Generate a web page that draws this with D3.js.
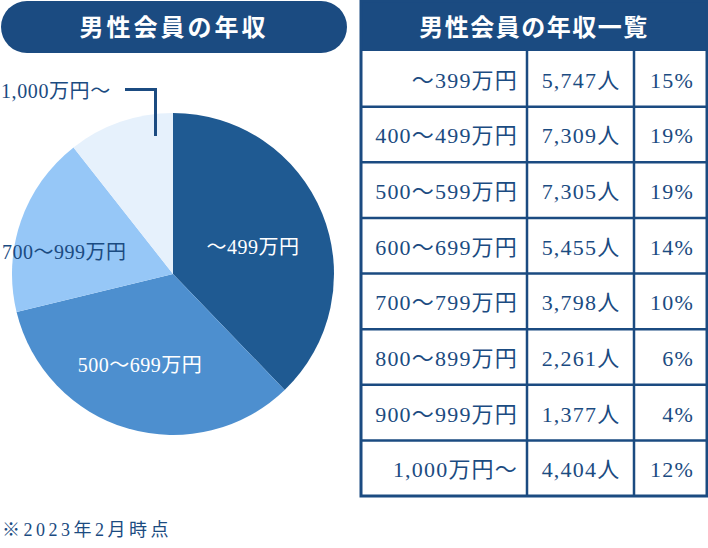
<!DOCTYPE html>
<html><head><meta charset="utf-8">
<script src="https://cdn.jsdelivr.net/npm/d3@7"></script>
<style>
html,body{margin:0;padding:0;background:#fff;}
svg{display:block;}
text{font-family:"Liberation Serif","DejaVu Serif","Noto Sans CJK JP",serif;}
</style></head>
<body><svg id="chart" width="708" height="548"></svg>
<script>
const chartTitle = "男性会員の年収";
const tableTitle = "男性会員の年収一覧";
const footnote = "※2023年2月時点";

// Pie slices (as drawn)
const pieLabels = ["～499万円", "500～699万円", "700～999万円", "1,000万円～"];
const pieValues = [37.8, 33.4, 18.2, 10.6];

// Table
const tableRanges = ["～399万円","400～499万円","500～599万円","600～699万円","700～799万円","800～899万円","900～999万円","1,000万円～"];
const tableCounts = ["5,747人","7,309人","7,305人","5,455人","3,798人","2,261人","1,377人","4,404人"];
const tablePercents = ["15%","19%","19%","14%","10%","6%","4%","12%"];

const navy = "#1b4b81";
const sliceColors = ["#1f5a92", "#4d8fcf", "#96c7f7", "#e6f1fc"];

const svg = d3.select("#chart");

// Title pill
svg.append("rect").attr("x", 1).attr("y", 1).attr("width", 346).attr("height", 52)
  .attr("rx", 26).attr("fill", navy);
svg.append("text").attr("x", 174).attr("y", 36).attr("text-anchor", "middle")
  .attr("fill", "#fff").attr("font-size", 24).attr("letter-spacing", 3)
  .attr("font-weight", "bold").text(chartTitle);

// Pie
const cx = 173, cy = 274, r = 161;
const pie = d3.pie().sort(null).value(d => d)(pieValues);
const arc = d3.arc().innerRadius(0).outerRadius(r);
const g = svg.append("g").attr("transform", `translate(${cx},${cy})`);
g.selectAll("path").data(pie).join("path")
  .attr("d", arc).attr("fill", (d, i) => sliceColors[i]);

// Slice labels
const labelDefs = [
  {i: 0, dx: 80, dy: -20, fill: "#fff", anchor: "middle"},
  {i: 1, dx: -33, dy: 98, fill: "#fff", anchor: "middle"},
  {i: 2, dx: -171, dy: -15, fill: navy, anchor: "start"}
];
labelDefs.forEach(l => {
  g.append("text").attr("x", l.dx).attr("y", l.dy)
    .attr("text-anchor", l.anchor).attr("fill", l.fill)
    .attr("font-size", 20).attr("letter-spacing", 0.5)
    .text(pieLabels[l.i]);
});

// Callout for smallest slice
svg.append("text").attr("x", 1).attr("y", 98).attr("fill", navy)
  .attr("font-size", 20).attr("letter-spacing", 0.6).text(pieLabels[3]);
svg.append("path")
  .attr("d", `M125,89.5 H155.5 V136`)
  .attr("fill", "none").attr("stroke", navy).attr("stroke-width", 3);

// Table
const tx0 = 361, tx1 = 707, headerTop = 1, headerBottom = 51, tableBottom = 496;
const colX = [tx0, 527, 634, tx1];
const y = d3.scaleBand().domain(d3.range(tableRanges.length)).range([headerBottom, tableBottom]);

svg.append("rect").attr("x", tx0).attr("y", headerTop).attr("width", tx1 - tx0)
  .attr("height", headerBottom - headerTop).attr("fill", navy);
svg.append("text").attr("x", (tx0 + tx1) / 2).attr("y", 36).attr("text-anchor", "middle")
  .attr("fill", "#fff").attr("font-size", 24).attr("letter-spacing", 1.5)
  .attr("font-weight", "bold").text(tableTitle);

const rows = svg.append("g");
rows.selectAll("line.h").data(d3.range(1, tableRanges.length)).join("line")
  .attr("x1", tx0).attr("x2", tx1)
  .attr("y1", i => y(i)).attr("y2", i => y(i))
  .attr("stroke", navy).attr("stroke-width", 2.5);
[colX[1], colX[2]].forEach(x => {
  rows.append("line").attr("x1", x).attr("x2", x).attr("y1", headerBottom).attr("y2", tableBottom)
    .attr("stroke", navy).attr("stroke-width", 2.5);
});
rows.append("rect").attr("x", tx0).attr("y", headerTop).attr("width", tx1 - tx0)
  .attr("height", tableBottom - headerTop).attr("fill", "none")
  .attr("stroke", navy).attr("stroke-width", 3);

const cellFont = 22, ls = 1.2;
tableRanges.forEach((t, i) => {
  const by = y(i) + y.bandwidth() / 2 + 9;
  rows.append("text").attr("x", 518).attr("y", by).attr("text-anchor", "end")
    .attr("fill", navy).attr("font-size", cellFont).attr("letter-spacing", ls).text(t);
  rows.append("text").attr("x", 581).attr("y", by).attr("text-anchor", "middle")
    .attr("fill", navy).attr("font-size", cellFont).attr("letter-spacing", ls).text(tableCounts[i]);
  rows.append("text").attr("x", 694).attr("y", by).attr("text-anchor", "end")
    .attr("fill", navy).attr("font-size", cellFont).attr("letter-spacing", ls).text(tablePercents[i]);
});

// Footnote
svg.append("text").attr("x", 2).attr("y", 536).attr("fill", navy)
  .attr("font-size", 18).attr("letter-spacing", 3.5).text(footnote);
</script></body></html>
